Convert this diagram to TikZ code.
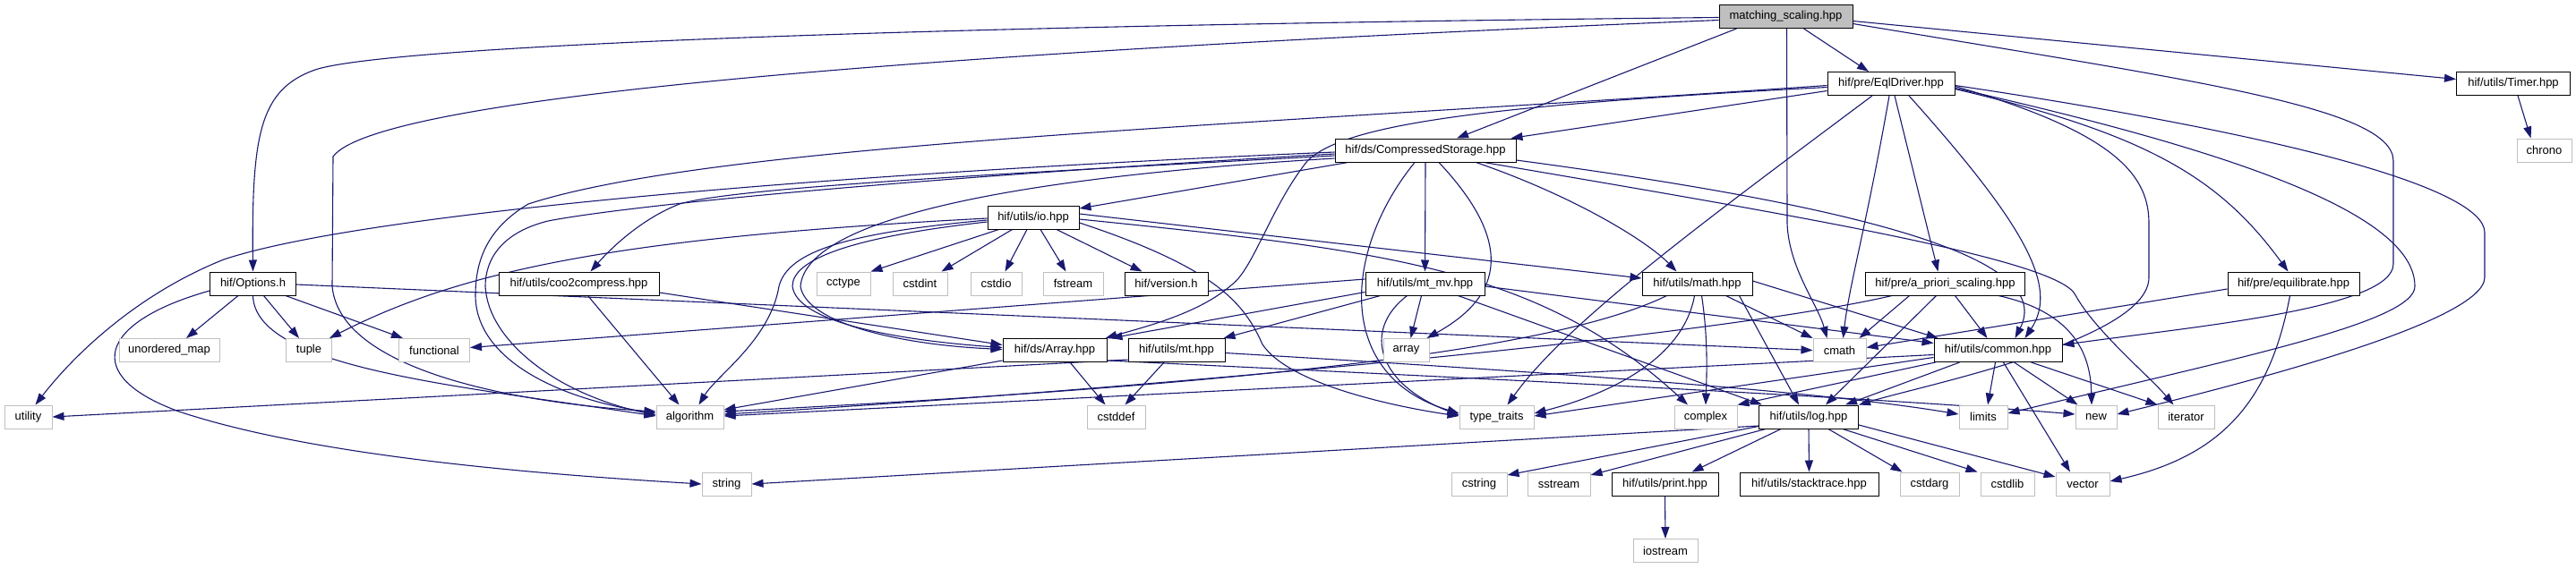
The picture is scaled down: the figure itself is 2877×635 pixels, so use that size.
\documentclass[tikz,border=0pt]{standalone}
\usepackage{fontspec}
\setmainfont{Liberation Sans}
\usetikzlibrary{arrows.meta,calc}
\definecolor{edgeblue}{HTML}{191970}
\definecolor{sysgray}{HTML}{BFBFBF}
\definecolor{rootgray}{HTML}{BFBFBF}
\pgfdeclarelayer{bg}
\pgfsetlayers{bg,main}
\tikzset{
  base/.style={rectangle, inner sep=0pt, minimum height=26pt, font=\fontsize{13}{15}\selectfont, text=black, line width=1pt},
  hdr/.style={base, draw=black, fill=white},
  sys/.style={base, draw=sysgray, fill=white},
  root/.style={base, draw=black, fill=rootgray},
  e/.style={draw=edgeblue, line width=1.1pt, -{Triangle[length=13pt,width=9pt]}}
}
\begin{document}
\begin{tikzpicture}[x=1pt,y=-1pt]
\useasboundingbox (0,0) rectangle (2877,635);
\def\RA{18.5}\def\RB{93.5}\def\RC{168}\def\RD{243}\def\RE{317}\def\RF{391.5}\def\RG{466}\def\RH{541}\def\RI{615.5}
% row 0-3
\node[root, minimum width=149pt] (ms) at (1994.5,\RA) {matching\_scaling.hpp};
\node[hdr, minimum width=142pt] (eql) at (2112,\RB) {hif/pre/EqlDriver.hpp};
\node[hdr, minimum width=127pt] (timer) at (2807,\RB) {hif/utils/Timer.hpp};
\node[hdr, minimum width=202pt] (cs) at (1592,\RC) {hif/ds/CompressedStorage.hpp};
\node[sys, minimum width=61pt] (chrono) at (2841.5,\RC) {chrono};
\node[hdr, minimum width=102pt] (io) at (1154,\RD) {hif/utils/io.hpp};
% row 4
\node[hdr, minimum width=96pt] (options) at (282.5,\RE) {hif/Options.h};
\node[hdr, minimum width=179pt] (coo) at (646.5,\RE) {hif/utils/coo2compress.hpp};
\node[sys, minimum width=60pt] (cctype) at (942,\RE) {cctype};
\node[sys, minimum width=61pt] (cstdint) at (1027.5,\RE) {cstdint};
\node[sys, minimum width=57pt] (cstdio) at (1112.5,\RE) {cstdio};
\node[sys, minimum width=67pt] (fstream) at (1198.5,\RE) {fstream};
\node[hdr, minimum width=93pt] (version) at (1302.5,\RE) {hif/version.h};
\node[hdr, minimum width=133pt] (mtmv) at (1591.5,\RE) {hif/utils/mt\_mv.hpp};
\node[hdr, minimum width=123pt] (math) at (1895.5,\RE) {hif/utils/math.hpp};
\node[hdr, minimum width=178pt] (apriori) at (2172.5,\RE) {hif/pre/a\_priori\_scaling.hpp};
\node[hdr, minimum width=147pt] (equil) at (2561.5,\RE) {hif/pre/equilibrate.hpp};
% row 5
\node[sys, minimum width=112pt] (umap) at (189,\RF) {unordered\_map};
\node[sys, minimum width=51pt] (tuple) at (345,\RF) {tuple};
\node[sys, minimum width=79pt] (functional) at (485,\RF) {functional};
\node[hdr, minimum width=116pt] (arrayh) at (1178,\RF) {hif/ds/Array.hpp};
\node[hdr, minimum width=108pt] (mt) at (1314,\RF) {hif/utils/mt.hpp};
\node[sys, minimum width=51pt] (arr) at (1570.5,\RF) {array};
\node[sys, minimum width=59pt] (cmath) at (2054.5,\RF) {cmath};
\node[hdr, minimum width=143pt] (common) at (2231.5,\RF) {hif/utils/common.hpp};
% row 6
\node[sys, minimum width=53pt] (utility) at (31.5,\RG) {utility};
\node[sys, minimum width=75pt] (algorithm) at (770.5,\RG) {algorithm};
\node[sys, minimum width=65pt] (cstddef) at (1246.5,\RG) {cstddef};
\node[sys, minimum width=83pt] (typetraits) at (1671.5,\RG) {type\_traits};
\node[sys, minimum width=70pt] (complex) at (1905,\RG) {complex};
\node[hdr, minimum width=111pt] (log) at (2020,\RG) {hif/utils/log.hpp};
\node[sys, minimum width=54pt] (limits) at (2215,\RG) {limits};
\node[sys, minimum width=46pt] (newh) at (2341,\RG) {new};
\node[sys, minimum width=63pt] (iterator) at (2441.5,\RG) {iterator};
% row 7-8
\node[sys, minimum width=55pt] (string) at (811.5,\RH) {string};
\node[sys, minimum width=62pt] (cstring) at (1652,\RH) {cstring};
\node[sys, minimum width=70pt] (sstream) at (1741,\RH) {sstream};
\node[hdr, minimum width=119pt] (print) at (1859.5,\RH) {hif/utils/print.hpp};
\node[hdr, minimum width=155pt] (stacktrace) at (2020.5,\RH) {hif/utils/stacktrace.hpp};
\node[sys, minimum width=66pt] (cstdarg) at (2155,\RH) {cstdarg};
\node[sys, minimum width=60pt] (cstdlib) at (2242,\RH) {cstdlib};
\node[sys, minimum width=60pt] (vector) at (2326,\RH) {vector};
\node[sys, minimum width=72pt] (iostream) at (1860,\RI) {iostream};

\begin{pgfonlayer}{bg}
% matching_scaling
\draw[e] ($(ms.south)+(20,0)$) -- ($(eql.north)+(-25,0)$);
\draw[e] ($(ms.east)+(0,5)$) -- ($(timer.west)+(0,-5)$);
\draw[e] ($(ms.south west)+(20,0)$) -- ($(cs.north)+(35,0)$);
\draw[e] ($(ms.west)+(0,1)$) .. controls (900,30) and (420,55) .. (352,78) .. controls (290,100) and (281,150) .. (options.north);
\draw[e] ($(ms.west)+(0,4)$) .. controls (1000,60) and (420,110) .. (372,175) -- (371,320) .. controls (380,420) and (600,452) .. ($(algorithm.west)+(0,-6)$);
\draw[e] ($(ms.south)+(1,0)$) -- (1996,250) .. controls (1998,300) and (2030,340) .. ($(cmath.north)+(-14,0)$);
\draw[e] ($(ms.east)+(0,8)$) .. controls (2450,90) and (2673,120) .. (2673,180) -- (2673,295) .. controls (2673,345) and (2450,365) .. ($(common.east)+(0,-6)$);
% EqlDriver
\draw[e] ($(eql.west)+(0,8)$) -- ($(cs.north east)+(-6,0)$);
\draw[e] ($(eql.west)+(0,2)$) .. controls (1400,140) and (800,160) .. (590,228) .. controls (545,255) and (531,290) .. (531,330) .. controls (531,400) and (620,445) .. ($(algorithm.west)+(0,-4)$);
\draw[e] ($(eql.west)+(0,4)$) .. controls (1650,118) and (1500,140) .. (1460,180) .. controls (1420,230) and (1400,300) .. (1376,318) .. controls (1340,350) and (1280,365) .. ($(arrayh.north east)+(-2,0)$);
\draw[e] ($(eql.south)+(-21,0)$) .. controls (1900,250) and (1750,360) .. ($(typetraits.north)+(12,0)$);
\draw[e] ($(eql.south)+(-2,0)$) .. controls (2085,250) and (2065,320) .. ($(cmath.north)+(4,0)$);
\draw[e] ($(eql.south)+(4,0)$) -- ($(apriori.north)+(-8,0)$);
\draw[e] ($(eql.south)+(20,0)$) .. controls (2260,250) and (2300,320) .. ($(common.north)+(30,0)$);
\draw[e] ($(eql.east)+(0,3)$) .. controls (2370,150) and (2400,200) .. (2400,250) -- (2400,310) .. controls (2400,380) and (2150,430) .. (log.north east);
\draw[e] ($(eql.east)+(0,6)$) .. controls (2400,150) and (2480,200) .. ($(equil.north)+(-6,0)$);
\draw[e] ($(eql.east)+(0,5)$) .. controls (2500,170) and (2697,240) .. (2697,320) .. controls (2697,360) and (2500,400) .. ($(limits.east)+(0,-4)$);
\draw[e] ($(eql.east)+(0,2)$) .. controls (2550,150) and (2775,210) .. (2775,260) -- (2775,310) .. controls (2775,360) and (2500,430) .. ($(newh.east)+(0,-3)$);
% CompressedStorage
\draw[e] ($(cs.south west)+(15,0)$) -- ($(io.east)+(0,-10)$);
\draw[e] ($(cs.west)+(0,6)$) .. controls (1100,195) and (820,210) .. (759,228) .. controls (715,245) and (680,280) .. ($(coo.north)+(13,0)$);
\draw[e] ($(cs.west)+(0,2)$) .. controls (900,195) and (400,240) .. (250,290) .. controls (150,330) and (80,400) .. ($(utility.north)+(8,0)$);
\draw[e] ($(cs.west)+(0,4)$) .. controls (1000,200) and (700,230) .. (612,247) .. controls (560,260) and (542,290) .. (542,320) .. controls (545,380) and (620,440) .. ($(algorithm.west)+(0,-2)$);
\draw[e] ($(cs.west)+(0,9)$) .. controls (1100,200) and (900,250) .. (894,320) .. controls (900,360) and (1000,385) .. ($(arrayh.west)+(0,-1)$);
\draw[e] (cs.south) -- (mtmv.north);
\draw[e] ($(cs.south)+(15,0)$) .. controls (1690,270) and (1680,330) .. ($(arr.north east)+(-3,0)$);
\draw[e] ($(cs.south)+(-12,0)$) .. controls (1500,280) and (1490,420) .. ($(typetraits.west)+(0,-4)$);
\draw[e] ($(cs.south east)+(-45,0)$) .. controls (1760,220) and (1840,270) .. ($(math.north)+(-23,0)$);
\draw[e] ($(cs.east)+(0,11)$) .. controls (2150,240) and (2290,300) .. ($(common.north)+(19,0)$);
\draw[e] ($(cs.south east)+(-36,0)$) .. controls (2000,240) and (2300,290) .. (2318,330) .. controls (2340,370) and (2400,420) .. ($(iterator.north)+(-14,0)$);
% io
\draw[e] ($(io.south west)+(13,0)$) -- (cctype.north east);
\draw[e] ($(io.south west)+(28,0)$) -- ($(cstdint.north)+(24,0)$);
\draw[e] ($(io.south)+(-7,0)$) -- ($(cstdio.north)+(10,0)$);
\draw[e] ($(io.south)+(8,0)$) -- ($(fstream.north)+(-8,0)$);
\draw[e] ($(io.south)+(26,0)$) -- ($(version.north)+(-27,0)$);
\draw[e] ($(io.west)+(0,1)$) .. controls (700,265) and (520,300) .. ($(tuple.north east)+(-3,0)$);
\draw[e] ($(io.east)+(0,-4)$) -- ($(math.west)+(0,-6)$);
\draw[e] ($(io.east)+(0,2)$) .. controls (1550,280) and (1720,300) .. ($(complex.north)+(-20,0)$);
\draw[e] ($(io.east)+(0,6)$) .. controls (1360,300) and (1390,340) .. (1410,385) .. controls (1440,430) and (1560,455) .. ($(typetraits.west)+(0,-1)$);
\draw[e] ($(io.west)+(0,3)$) .. controls (950,260) and (880,280) .. (870,320) .. controls (860,380) and (800,420) .. ($(algorithm.north)+(10,0)$);
\draw[e] ($(io.west)+(0,5)$) .. controls (950,265) and (885,290) .. (885,320) .. controls (890,360) and (1000,380) .. ($(arrayh.west)+(0,-3)$);
% coo2compress
\draw[e] ($(coo.east)+(0,10)$) -- ($(arrayh.west)+(0,-6)$);
\draw[e] ($(coo.south)+(10,0)$) -- ($(algorithm.north)+(-12,0)$);
% mt_mv
\draw[e] ($(mtmv.west)+(0,-5)$) -- ($(functional.east)+(0,-3)$);
\draw[e] ($(mtmv.south west)+(0,-4)$) -- ($(arrayh.north east)+(4,0)$);
\draw[e] ($(mtmv.south west)+(17,0)$) -- ($(mt.north east)+(-2,0)$);
\draw[e] ($(mtmv.south)+(-4,0)$) -- ($(arr.north)+(5,0)$);
\draw[e] ($(mtmv.south)+(-20,0)$) .. controls (1520,370) and (1540,430) .. ($(typetraits.west)+(0,-2)$);
\draw[e] ($(mtmv.east)+(0,3)$) -- ($(common.west)+(0,-8)$);
\draw[e] ($(mtmv.south east)+(-30,0)$) -- ($(log.north west)+(4,0)$);
% math
\draw[e] ($(math.south east)+(-30,0)$) -- (cmath.north west);
\draw[e] ($(math.east)+(0,-3)$) -- ($(common.north west)+(5,0)$);
\draw[e] ($(math.south)+(-3,0)$) .. controls (1880,400) and (1800,440) .. ($(typetraits.east)+(0,-4)$);
\draw[e] ($(math.south)+(5,0)$) .. controls (1908,380) and (1906,420) .. (complex.north);
\draw[e] ($(math.south east)+(-15,0)$) -- ($(log.north)+(-11,0)$);
\draw[e] ($(math.south west)+(28,0)$) .. controls (1760,380) and (1500,425) .. ($(algorithm.east)+(0,-6)$);
% a_priori_scaling
\draw[e] ($(apriori.south)+(-40,0)$) -- ($(cmath.north east)+(-8,0)$);
\draw[e] ($(apriori.south)+(11,0)$) -- ($(common.north)+(-12,0)$);
\draw[e] ($(apriori.south)+(-10,0)$) -- ($(log.north)+(19,0)$);
\draw[e] ($(apriori.south east)+(-30,0)$) .. controls (2320,350) and (2335,400) .. ($(newh.north)+(-5,0)$);
\draw[e] ($(apriori.south west)+(30,0)$) .. controls (1900,380) and (1200,440) .. ($(algorithm.east)+(0,-3)$);
% equilibrate
\draw[e] ($(equil.west)+(0,6)$) -- ($(cmath.east)+(0,-3)$);
\draw[e] ($(equil.south)+(-4,0)$) .. controls (2535,450) and (2480,510) .. ($(vector.east)+(0,-3)$);
% Options
\draw[e] ($(options.south west)+(32,0)$) -- ($(umap.north)+(19,0)$);
\draw[e] ($(options.south)+(12,0)$) -- ($(tuple.north)+(-11,0)$);
\draw[e] ($(options.south east)+(-12,0)$) -- ($(functional.north west)+(5,0)$);
\draw[e] (options.south) .. controls (285,410) and (500,430) .. ($(algorithm.west)+(0,-1)$);
\draw[e] ($(options.west)+(0,8)$) .. controls (110,360) and (90,420) .. (200,460) .. controls (350,510) and (600,530) .. (string.west);
\draw[e] ($(options.east)+(0,1)$) -- (cmath.west);
% Array, mt
\draw[e] ($(arrayh.south)+(17,0)$) -- ($(cstddef.north)+(-12,0)$);
\draw[e] ($(arrayh.south west)+(0,-2)$) -- ($(algorithm.east)+(0,-8)$);
\draw[e] ($(arrayh.south east)+(0,-2)$) .. controls (1700,425) and (2100,445) .. ($(newh.west)+(0,-3)$);
\draw[e] ($(mt.south)+(-14,0)$) -- ($(cstddef.north)+(10,0)$);
\draw[e] ($(mt.south west)+(0,-3)$) -- (utility.east);
\draw[e] ($(mt.east)+(0,3)$) .. controls (1800,420) and (2050,440) .. ($(limits.west)+(0,-3)$);
% common
\draw[e] ($(common.south west)+(29,0)$) -- ($(log.north)+(41,0)$);
\draw[e] ($(common.south)+(-3,0)$) -- ($(limits.north)+(5,0)$);
\draw[e] ($(common.south)+(6,0)$) -- ($(vector.north)+(-14,0)$);
\draw[e] ($(common.south)+(18,0)$) -- ($(newh.north west)+(3,0)$);
\draw[e] ($(common.south)+(37,0)$) -- (iterator.north west);
\draw[e] ($(common.south west)+(2,0)$) -- (complex.north east);
\draw[e] ($(common.west)+(0,8)$) -- ($(typetraits.east)+(0,-1)$);
\draw[e] ($(common.west)+(0,5)$) -- ($(algorithm.east)+(0,-1)$);
% log
\draw[e] ($(log.west)+(0,10)$) -- (string.east);
\draw[e] ($(log.south west)+(0,-3)$) -- ($(cstring.east)+(0,-10)$);
\draw[e] ($(log.south west)+(8,0)$) -- ($(sstream.east)+(0,-10)$);
\draw[e] ($(log.south west)+(25,0)$) -- ($(print.north)+(30,0)$);
\draw[e] (log.south) -- (stacktrace.north);
\draw[e] ($(log.south)+(22,0)$) -- ($(cstdarg.north west)+(3,0)$);
\draw[e] ($(log.south)+(38,0)$) -- ($(cstdlib.north west)+(-3,0)$);
\draw[e] ($(log.east)+(0,9)$) -- ($(vector.west)+(0,-8)$);
% others
\draw[e] (print.south) -- (iostream.north);
\draw[e] ($(timer.south)+(5,0)$) -- ($(chrono.north)+(-15,0)$);
\end{pgfonlayer}
\end{tikzpicture}
\end{document}
